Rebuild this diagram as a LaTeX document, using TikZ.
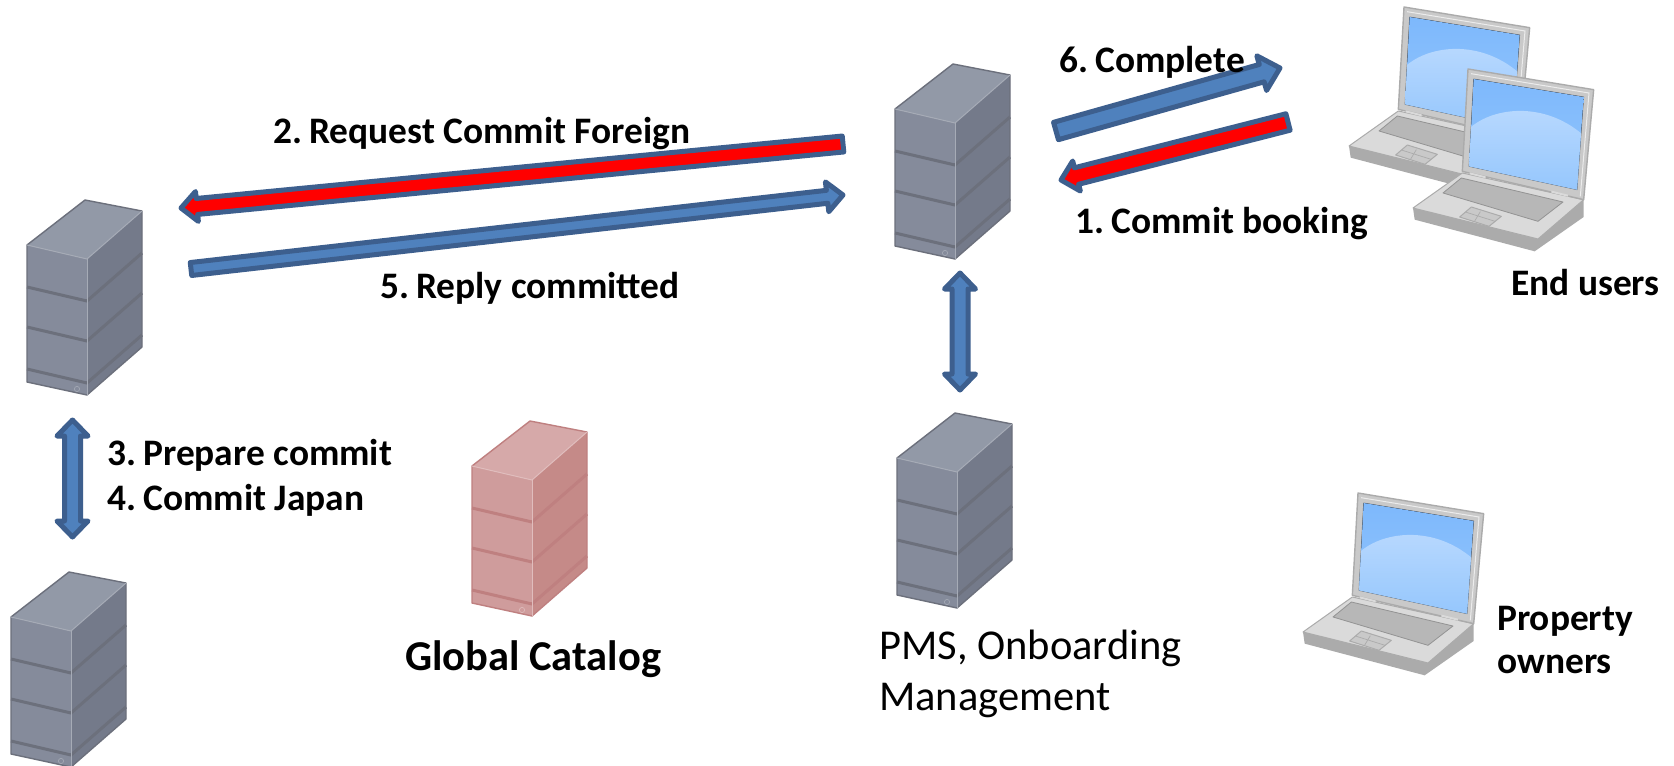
\documentclass[tikz,border=0pt]{standalone}
\usepackage{fontspec}
\setmainfont{Carlito}
\usetikzlibrary{calc}
\definecolor{greytop}{HTML}{9299A7}
\definecolor{greyfront}{HTML}{858B9B}
\definecolor{greyside}{HTML}{747A8A}
\definecolor{greyband}{HTML}{6C707C}
\definecolor{greylight}{HTML}{A6ABB6}
\definecolor{pinktop}{HTML}{D6A9A9}
\definecolor{pinkfront}{HTML}{CF9C9C}
\definecolor{pinkside}{HTML}{C58A88}
\definecolor{pinkband}{HTML}{BF8080}
\definecolor{pinklight}{HTML}{E0BDBD}
\definecolor{arrowedge}{HTML}{3D5F8E}
\definecolor{arrowblue}{HTML}{4F81BD}
\definecolor{lapgrey}{HTML}{C9C9C9}
\definecolor{lapdark}{HTML}{ABABAB}
\definecolor{lapside}{HTML}{B4B4B4}
\definecolor{lapkeys}{HTML}{B7B7B7}
\definecolor{lapbase}{HTML}{DADADA}
\definecolor{screentop}{HTML}{7DB8FC}
\definecolor{screenbot}{HTML}{94C6FD}
\definecolor{screenarc}{HTML}{BBDAFE}
\newcommand{\numgap}{\kern-1.3pt\ }
\tikzset{
  x=1pt,y=-1pt,
  server/.pic={
    \fill[#1front] (0,0)--(60,14)--(60,150)--(0,137)--cycle;
    \fill[#1side] (60,14)--(115,-34)--(115,102)--(60,150)--cycle;
    \fill[#1top] (0,0)--(58,-45)--(115,-34)--(60,14)--cycle;
    \draw[#1band,line width=1.4pt,line join=round] (0,0)--(58,-45)--(115,-34)--(115,102)--(60,150)--(0,137)--cycle;
    \foreach \d in {42,82,124}{
      \draw[#1band,line width=3pt] (0,\d)--(60,\d+14)--(115,\d-34);
    }
    \draw[#1light,line width=1pt] (0,0)--(60,14)--(115,-34);
    \draw[#1light,line width=1pt] (60,14)--(60,150);
    \draw[#1light,line width=.6pt] (50,144) circle (2.6);
  },
  laptop/.pic={
    \begin{scope}[x=.3333pt,y=-.3333pt,shift={(-205,-38)}]
      \fill[lapdark] (40,455)--(45,490)--(405,585)--(552,482)--(552,430)--cycle;
      \fill[lapbase] (188,350)--(552,430)--(415,548)--(40,455)--cycle;
      \draw[lapdark,line width=1pt,line join=round] (188,350)--(552,430)--(415,548)--(40,455)--cycle;
      \fill[lapkeys] (130,410)--(185,365)--(490,437)--(415,495)--cycle;
      \draw[gray!85,line width=.8pt,line join=round] (130,410)--(185,365)--(490,437)--(415,495)--cycle;
      \draw[lapdark,fill=lapgrey,line width=1pt,line join=round] (180,482)--(215,452)--(305,480)--(268,510)--cycle;
      \draw[lapdark,line width=.7pt] (197,467)--(286,495) (242,466)--(224,496);
      \fill[lapgrey] (205,38)--(582,100)--(552,430)--(188,345)--cycle;
      \draw[lapdark,line width=1.4pt,line join=round] (205,38)--(582,100)--(552,430)--(188,345)--cycle;
      \draw[white!85!gray,line width=1pt] (214,52)--(568,110)--(542,420);
      \draw[gray,line width=.8pt] (222,68)--(552,122)--(532,400)--(208,330)--cycle;
      \begin{scope}
        \clip (222,68)--(552,122)--(532,400)--(208,330)--cycle;
        \fill[top color=screentop,bottom color=screenbot] (200,60) rectangle (560,410);
        \shade[top color=screenarc,bottom color=screenbot] (200,225) .. controls (270,150) and (440,130) .. (560,245) -- (560,410)--(200,410)--cycle;
      \end{scope}
      \fill[lapbase] (210,348)--(258,360)--(258,366)--(210,354)--cycle;
      \fill[lapbase] (455,403)--(505,415)--(505,421)--(455,409)--cycle;
    \end{scope}
  },
  label/.style={font=\fontsize{37.4}{37.4}\selectfont\bfseries,anchor=base west,inner sep=0pt,text=black},
  plainlabel/.style={font=\fontsize{42.5}{42.5}\selectfont,anchor=base west,inner sep=0pt,text=black},
  arrowline/.style={draw=arrowedge,line width=5pt,line join=round},
}
% start, tip, half body, half head, head length, fill
\newcommand{\blockarrow}[6]{%
  \coordinate (hb) at ($(#2)!#5pt!(#1)$);
  \draw[arrowline,fill=#6]
    ($(#1)!#3pt!90:(#2)$) -- ($(hb)!#3pt!90:(#2)$) -- ($(hb)!#4pt!90:(#2)$) -- (#2)
    -- ($(hb)!#4pt!-90:(#2)$) -- ($(hb)!#3pt!-90:(#2)$) -- ($(#1)!#3pt!-90:(#2)$) -- cycle;
}
% end one, end two, half body, half head, head length, fill
\newcommand{\twowayarrow}[6]{%
  \coordinate (ha) at ($(#1)!#5pt!(#2)$);
  \coordinate (hb) at ($(#2)!#5pt!(#1)$);
  \draw[arrowline,fill=#6]
    (#1) -- ($(ha)!#4pt!90:(#2)$) -- ($(ha)!#3pt!90:(#2)$) -- ($(hb)!#3pt!-90:(#1)$) -- ($(hb)!#4pt!-90:(#1)$) -- (#2)
    -- ($(hb)!#4pt!90:(#1)$) -- ($(hb)!#3pt!90:(#1)$) -- ($(ha)!#3pt!-90:(#2)$) -- ($(ha)!#4pt!-90:(#2)$) -- cycle;
}
\begin{document}
\begin{tikzpicture}
\useasboundingbox (0,0) rectangle (1674,766);
\fill[white] (0,0) rectangle (1674,766);

\pic (srvforeign) at (27,245) {server={grey}};
\pic (srvjapan) at (11,617) {server={grey}};
\pic (srvcatalog) at (472,466) {server={pink}};
\pic (srvmain) at (895,109) {server={grey}};
\pic (srvpms) at (897,458) {server={grey}};

\pic (lapback) at (1404,7) {laptop};
\pic (lapfront) at (1468,69) {laptop};
\pic (lapowner) at (1358,493) {laptop};

\coordinate (c6s) at (1056,131);
\coordinate (c6t) at (1280,68);
\coordinate (c1s) at (1288,122);
\coordinate (c1t) at (1061,180);
\coordinate (c2s) at (843,144);
\coordinate (c2t) at (181,208);
\coordinate (c5s) at (191,269);
\coordinate (c5t) at (843,195);
\coordinate (c3a) at (72.5,420);
\coordinate (c3b) at (72.5,537);
\coordinate (c7a) at (960,273);
\coordinate (c7b) at (960,390);

\blockarrow{c6s}{c6t}{9}{18}{19}{arrowblue}
\blockarrow{c1s}{c1t}{8.5}{15.5}{16}{red}
\blockarrow{c2s}{c2t}{8}{15}{16}{red}
\blockarrow{c5s}{c5t}{6.5}{15}{16}{arrowblue}
\twowayarrow{c3a}{c3b}{8}{15.5}{16}{arrowblue}
\twowayarrow{c7a}{c7b}{8}{15.5}{16}{arrowblue}

\node[label] (t6) at (1059,72) {6.\numgap Complete};
\node[label] (t2) at (273,143) {2.\numgap Request Commit Foreign};
\node[label] (t1) at (1075,233) {1.\numgap Commit booking};
\node[label] (t5) at (380,298) {5.\numgap Reply committed};
\node[label] (t3) at (107,465) {3.\numgap Prepare commit};
\node[label] (t4) at (107,510) {4.\numgap Commit Japan};
\node[label] (t8) at (1511,295) {End users};
\node[label] (t9) at (1497,630) {Property};
\node[label] (t10) at (1497,673) {owners};
\node[label,font=\fontsize{42.5}{42.5}\selectfont\bfseries] (t11) at (405,670) {Global Catalog};
\node[plainlabel] (t12) at (879,659) {PMS, Onboarding};
\node[plainlabel] (t13) at (879,710) {Management};
\end{tikzpicture}
\end{document}
